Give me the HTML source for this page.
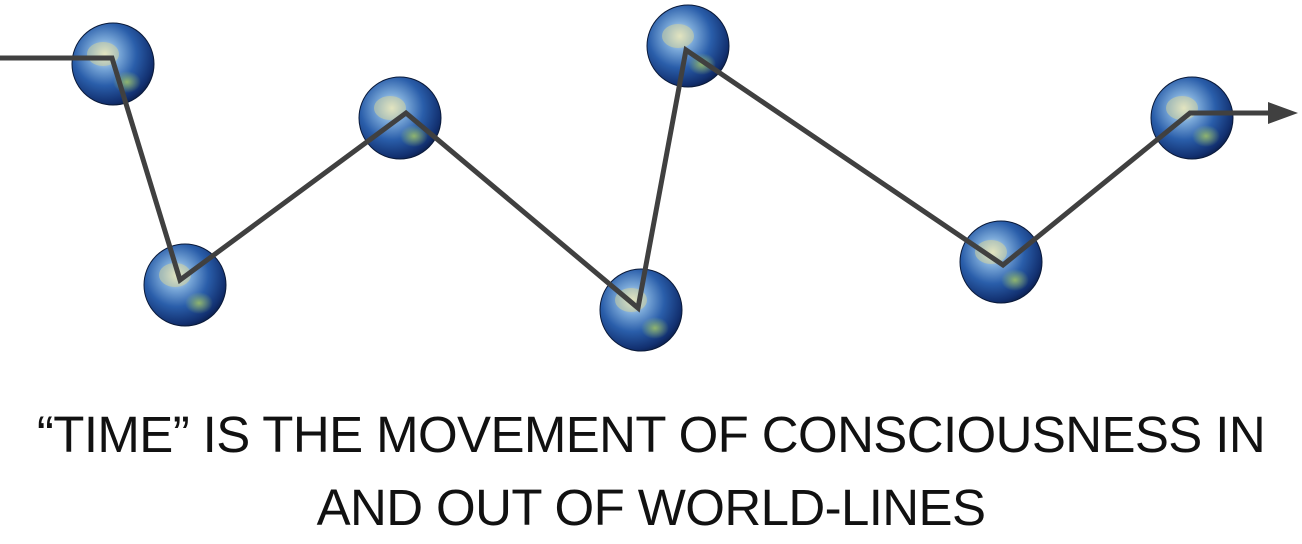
<!DOCTYPE html>
<html><head><meta charset="utf-8"><style>
html,body{margin:0;padding:0;background:#fff;width:1302px;height:544px;overflow:hidden}
.t{position:absolute;left:0;width:1302px;text-align:center;font-family:"Liberation Sans",sans-serif;font-size:51px;color:#111;letter-spacing:-0.6px}
</style></head><body>
<svg width="1302" height="544" style="position:absolute;left:0;top:0">
<defs>
<radialGradient id="g" cx="0.4" cy="0.38" r="0.7">
<stop offset="0" stop-color="#eef3e6"/>
<stop offset="0.25" stop-color="#7aa8d8"/>
<stop offset="0.55" stop-color="#2a5eaa"/>
<stop offset="0.85" stop-color="#123070"/>
<stop offset="1" stop-color="#08163a"/>
</radialGradient>
<radialGradient id="l" cx="0.5" cy="0.5" r="0.5">
<stop offset="0" stop-color="#9bbf6a" stop-opacity="0.9"/>
<stop offset="1" stop-color="#9bbf6a" stop-opacity="0"/>
</radialGradient>
<g id="e">
<circle r="41" fill="url(#g)"/>
<ellipse cx="-10" cy="-10" rx="16" ry="12" fill="#d8d59a" opacity="0.5"/>
<ellipse cx="14" cy="18" rx="14" ry="11" fill="url(#l)"/>
<circle r="41" fill="none" stroke="#0a1a3a" stroke-width="1"/>
</g>
</defs>
<use href="#e" x="113" y="64"/>
<use href="#e" x="185" y="285"/>
<use href="#e" x="400" y="118"/>
<use href="#e" x="688" y="46"/>
<use href="#e" x="641" y="310"/>
<use href="#e" x="1001" y="262"/>
<use href="#e" x="1192" y="118"/>
<polyline points="0,58 112,58 180,280 406,113 638,308 686,50 1003,265 1190,113 1275,113" fill="none" stroke="#404040" stroke-width="5" stroke-linejoin="miter"/>
<polygon points="1268,102 1298,113 1268,124" fill="#404040"/>
</svg>
<div class="t" style="top:405px">“TIME” IS THE MOVEMENT OF CONSCIOUSNESS IN</div>
<div class="t" style="top:478px">AND OUT OF WORLD-LINES</div>
</body></html>
